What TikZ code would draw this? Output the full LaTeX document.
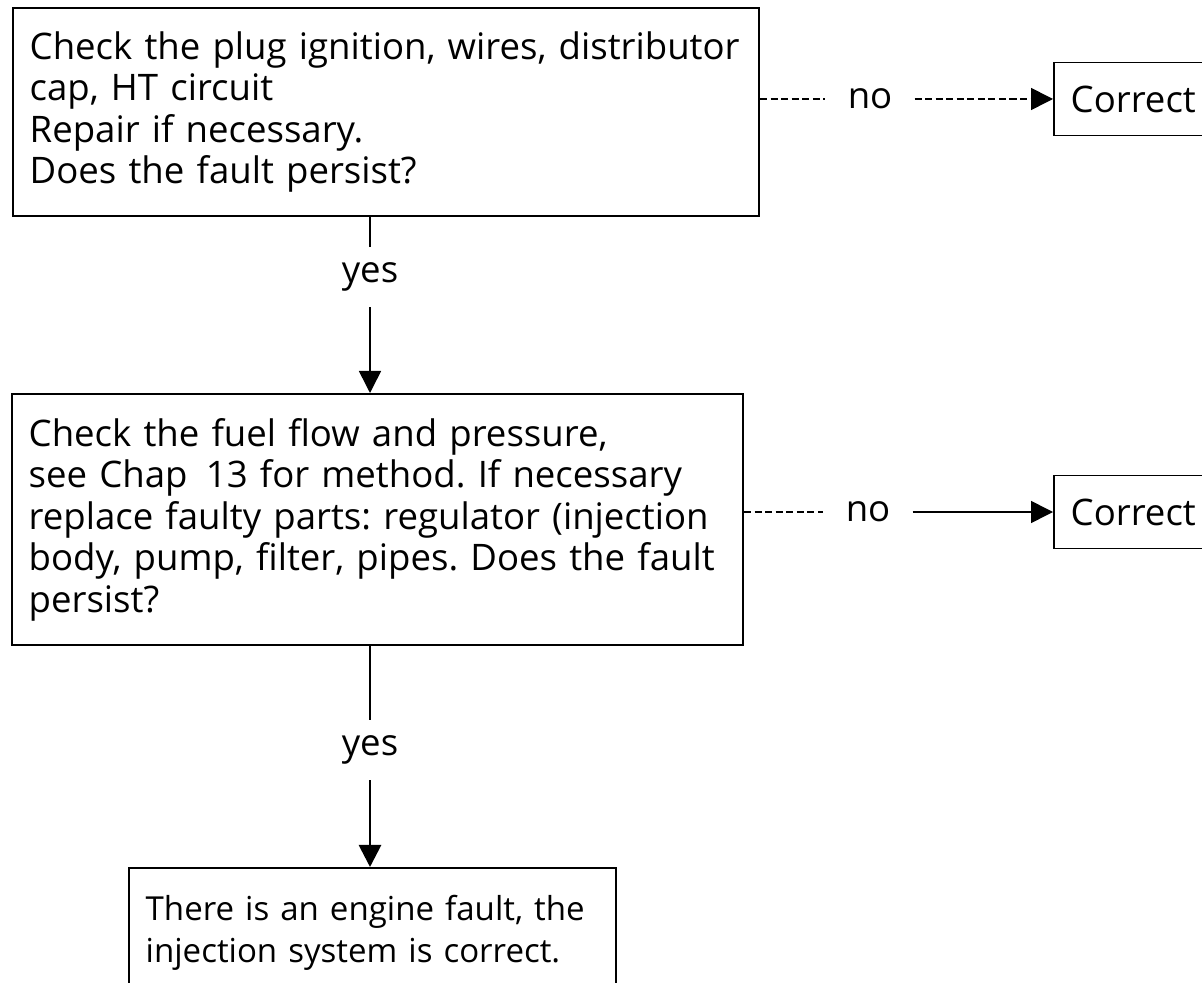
\documentclass[tikz,border=0pt]{standalone}
\usepackage{fontspec}
\setsansfont{Open Sans}
\usetikzlibrary{arrows.meta}
\frenchspacing

\tikzset{
	stepbox/.style={draw, line width=1.3pt, anchor=north west, align=left,
		inner xsep=0.42cm, inner ysep=0pt},
	fixbox/.style={draw, line width=1.3pt, anchor=west, align=left,
		inner xsep=0.42cm, minimum height=1.825cm, text width=7cm},
	answer/.style={inner xsep=0.55cm, inner ysep=0pt},
	flow/.style={line width=1.1pt},
	flowarrow/.style={flow, -{Triangle[length=0.55cm, width=0.55cm]}},
	brokenline/.style={dash pattern=on 5pt off 2.5pt},
}

\begin{document}
\begin{tikzpicture}[x=0.025cm, y=-0.025cm, font=\sffamily\fontsize{26}{29.5}\selectfont]
	\useasboundingbox (0,0) rectangle (1202,983);
	\clip (0,0) rectangle (1202,983);
	%boxes
	\node[stepbox, minimum width=18.65cm, minimum height=5.2cm, text width=17.81cm]
	(plug) at (12,7)
	{Check the plug ignition, wires, distributor\\
		cap, HT circuit\\
		Repair if necessary.\\
		Does the fault persist?};
	\node[stepbox, minimum width=18.275cm, minimum height=6.275cm, text width=17.435cm]
	(fuel) at (11,393)
	{Check the fuel flow and pressure,\\
		see Chap\enspace 13 for method. If necessary\\
		replace faulty parts: regulator (injection\\
		body, pump, filter, pipes. Does the fault\\
		persist?};
	\node[stepbox, minimum width=12.175cm, minimum height=3.25cm, text width=11.335cm,
	font=\sffamily\fontsize{23.5}{29.5}\selectfont]
	(engine) at (128,867)
	{There is an engine fault, the\\
		injection system is correct.};
	\node[fixbox] (fix1) at (1053,99) {Correct};
	\node[fixbox] (fix2) at (1053,512) {Correct};
	%labels
	\node[answer] (no1) at (870,99) {no};
	\node[answer] (no2) at (868,512) {no};
	\node[answer, minimum height=1.5cm] (yes1) at (370,277) {yes};
	\node[answer, minimum height=1.5cm] (yes2) at (370,750) {yes};
	%connectors
	\draw[flow, brokenline] (no1 -| plug.east) -- (no1.west);
	\draw[flowarrow, brokenline] (no1.east) -- (fix1.west);
	\draw[flow, brokenline] (no2 -| fuel.east) -- (no2.west);
	\draw[flowarrow] (no2.east) -- (fix2.west);
	\draw[flow] (plug.south -| yes1) -- (yes1.north);
	\draw[flowarrow] (yes1.south) -- (yes1 |- fuel.north);
	\draw[flow] (fuel.south -| yes2) -- (yes2.north);
	\draw[flowarrow, line width=2pt] (yes2.south) -- (yes2 |- engine.north);
\end{tikzpicture}
\end{document}
